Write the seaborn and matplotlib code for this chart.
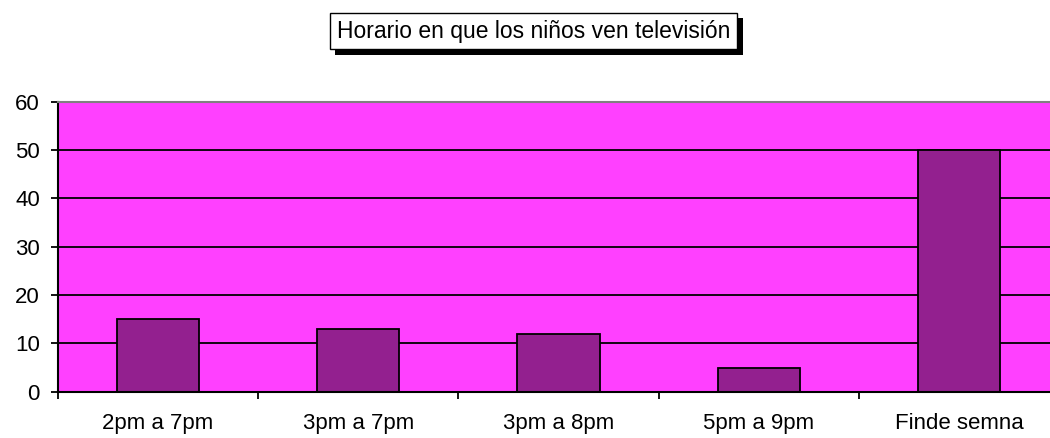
import matplotlib
matplotlib.use('Agg')
import matplotlib.pyplot as plt
import matplotlib.patheffects as pe
import seaborn as sns
import numpy as np

categories = ['2pm a 7pm', '3pm a 7pm', '3pm a 8pm', '5pm a 9pm', 'Finde semna']
values = [15, 13, 12, 5, 50]
yticks = [0, 10, 20, 30, 40, 50, 60]
title = 'Horario en que los niños ven televisión'

sns.set_style('white')
plt.rcParams['font.family'] = ['Liberation Sans', 'DejaVu Sans']
plt.rcParams['text.color'] = 'black'
plt.rcParams['xtick.color'] = 'black'
plt.rcParams['ytick.color'] = 'black'

fig = plt.figure(figsize=(10.5, 4.38), dpi=100)
ax = fig.add_axes([0.0552, 0.1057, 0.9534, 0.6621])
ax.set_facecolor('#FF40FF')

for v in yticks[1:-1]:
    ax.axhline(v, color='black', lw=1.3, zorder=0)

sns.barplot(x=categories, y=values, color='#93208F', edgecolor='black',
            linewidth=1.3, width=0.41, saturation=1, ax=ax, zorder=2)

ax.set_ylim(0, 60)
ax.set_xlim(-0.5, 4.5)
ax.set_yticks(yticks)
ax.set_yticklabels([str(v) for v in yticks], fontsize=16)
ax.set_xticks(np.arange(-0.5, 5, 1))
ax.set_xticklabels([])
ax.set_xticks(range(len(categories)), minor=True)
ax.set_xticklabels(categories, minor=True, fontsize=16)
ax.tick_params(axis='x', which='major', length=5, width=1.3, direction='out', color='black', bottom=True)
ax.tick_params(axis='x', which='minor', length=0, pad=15, labelcolor='black')
ax.tick_params(axis='y', length=5, width=1.3, direction='out', color='black', pad=8, left=True, labelcolor='black')
ax.set_xlabel('')
ax.set_ylabel('')

for s in ['left', 'bottom']:
    ax.spines[s].set_color('black')
    ax.spines[s].set_linewidth(1.5)
ax.spines['top'].set_color('#808080')
ax.spines['top'].set_linewidth(1.5)
ax.spines['right'].set_visible(False)

t = fig.text(0.508, 0.929, title, ha='center', va='center', fontsize=16.5, color='black',
             bbox=dict(boxstyle='square,pad=0.3', fc='white', ec='black', lw=1))
t.get_bbox_patch().set_path_effects([
    pe.SimplePatchShadow(offset=(4, -4), shadow_rgbFace='black', alpha=1),
    pe.Normal()])

fig.savefig('out.png', dpi=100)
